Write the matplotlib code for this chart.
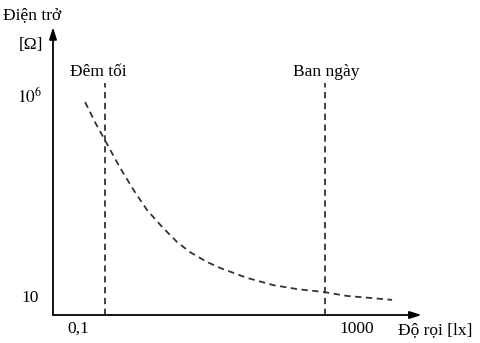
import matplotlib
matplotlib.use("Agg")
from matplotlib import pyplot as plt

plt.rcParams['font.family'] = ['Liberation Serif', 'DejaVu Serif']
plt.rcParams['mathtext.fontset'] = 'stix'

# curve (axis units 0..100 along each axis)
curve_x = [8.8, 11.5, 14.2, 18.4, 22.5, 25.8, 29.9, 34.0, 37.5, 42.2,
           45.8, 53.2, 60.3, 66.8, 74.0, 80.5, 86.8, 92.9]
curve_y = [74.7, 67.7, 61.4, 51.6, 43.0, 36.8, 30.9, 25.6, 22.1, 18.6,
           16.5, 13.0, 10.5, 9.1, 8.1, 6.7, 6.0, 5.3]

# dashed markers for dark / daylight
marker_x = [14.2, 74.5]
marker_top = [81.4, 81.4]
marker_labels = ['Đêm tối', 'Ban ngày']
marker_label_x = [12.3, 74.8]

# tick labels
ytick_pos = [76.5, 6.0]
ytick_labels = ['$10^6$', '10']
xtick_pos = [6.8, 83.3]
xtick_labels = ['0,1', '1000']

fig = plt.figure(figsize=(4.81, 3.43), dpi=100)
ax = fig.add_axes([53 / 481, 28 / 343, 365 / 481, 285 / 343])
ax.set_xlim(0, 100)
ax.set_ylim(0, 100)
ax.axis('off')

arrow = dict(arrowstyle='-|>,head_length=0.7,head_width=0.22', color='black',
             lw=1.3, shrinkA=0, shrinkB=0)
ax.annotate('', xy=(101, 0), xytext=(0, 0), arrowprops=arrow, annotation_clip=False)
ax.annotate('', xy=(0, 101), xytext=(0, 0), arrowprops=arrow, annotation_clip=False)

ax.plot(curve_x, curve_y, color='#333333', lw=1.3, ls=(0, (3.5, 2.5)), clip_on=False)

for mx, top, lab, lx in zip(marker_x, marker_top, marker_labels, marker_label_x):
    ax.plot([mx, mx], [0, top], color='#333333', lw=1.3, ls=(0, (3.5, 2.5)))
    ax.text(lx, top + 4, lab, ha='center', va='center', fontsize=12.5)

for y, lab in zip(ytick_pos, ytick_labels):
    ax.text(-6.3, y, lab, ha='center', va='center', fontsize=12.5, clip_on=False)
for x, lab in zip(xtick_pos, xtick_labels):
    ax.text(x, -4.8, lab, ha='center', va='center', fontsize=12.5, clip_on=False)

ax.text(-13.7, 105.3, 'Điện trở', ha='left', va='center', fontsize=12.5, clip_on=False)
ax.text(-6.0, 94.7, '[Ω]', ha='center', va='center', fontsize=12.5, clip_on=False)
ax.text(94.5, -5.3, 'Độ rọi [lx]', ha='left', va='center', fontsize=12.5, clip_on=False)

fig.savefig('out.png', dpi=100)
